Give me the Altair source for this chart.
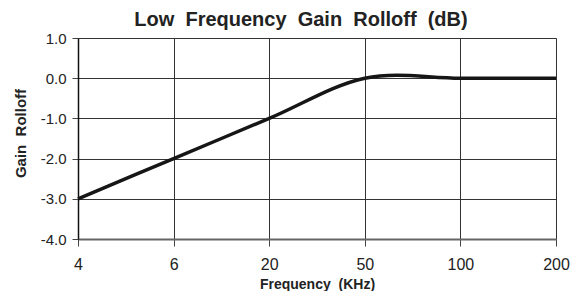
import altair as alt
import pandas as pd

freq_labels = ["4", "6", "20", "50", "100", "200"]
gain_db = [-3.0, -2.0, -1.0, 0.0, 0.0, 0.0]
y_ticks = [-4, -3, -2, -1, 0, 1]

df = pd.DataFrame({"freq": freq_labels, "gain": gain_db})

NB = "\u00a0\u00a0"
FONT = "Liberation Sans"

line = alt.Chart(df).mark_line(
    interpolate="cardinal", color="#161616", strokeWidth=3.5
).encode(
    x=alt.X("freq:N", sort=freq_labels,
            scale=alt.Scale(type="point", padding=0),
            axis=alt.Axis(title="Frequency" + NB + "(KHz)", labelAngle=0,
                          labelFontSize=16, labelFont=FONT,
                          labelColor="#222", labelPadding=10,
                          titleFont=FONT, titleFontSize=14,
                          titleFontWeight="bold", titleColor="#222",
                          titleBaseline="alphabetic", titleY=49,
                          grid=True, gridColor="#333", gridWidth=1,
                          domainColor="#666", domainWidth=2,
                          tickColor="#444", tickSize=7, tickWidth=1)),
    y=alt.Y("gain:Q",
            scale=alt.Scale(domain=[-4, 1], nice=False, zero=False),
            axis=alt.Axis(title="Gain" + NB + "Rolloff", values=y_ticks,
                          labelExpr="(datum.value < 0 ? '-' : '') + format(abs(datum.value), '.1f')",
                          labelFontSize=15,
                          labelFont=FONT, labelColor="#222",
                          labelPadding=6,
                          titleFont=FONT, titleFontSize=15,
                          titleFontWeight="bold", titleColor="#222",
                          titleBaseline="alphabetic", titleX=-53, titleY=95,
                          grid=True, gridColor="#333", gridWidth=1,
                          domainColor="#111", domainWidth=1.5,
                          tickColor="#444", tickSize=6, tickWidth=1)),
)

chart = line.properties(
    width=478, height=201,
    title=alt.TitleParams("Low" + NB + "Frequency" + NB + "Gain" + NB + "Rolloff" + NB + "(dB)",
                          font=FONT, fontSize=20,
                          fontWeight="bold", color="#222",
                          anchor="middle", frame="group",
                          offset=1, dx=-16),
    autosize=alt.AutoSizeParams(type="none"),
    padding={"left": 70, "top": 30, "right": 15, "bottom": 52},
).configure_view(
    fill="#c9c9cb", stroke="#333", strokeWidth=1
).configure(background="white")

chart.save("out.html", embed_options={"renderer": "svg", "actions": False})
